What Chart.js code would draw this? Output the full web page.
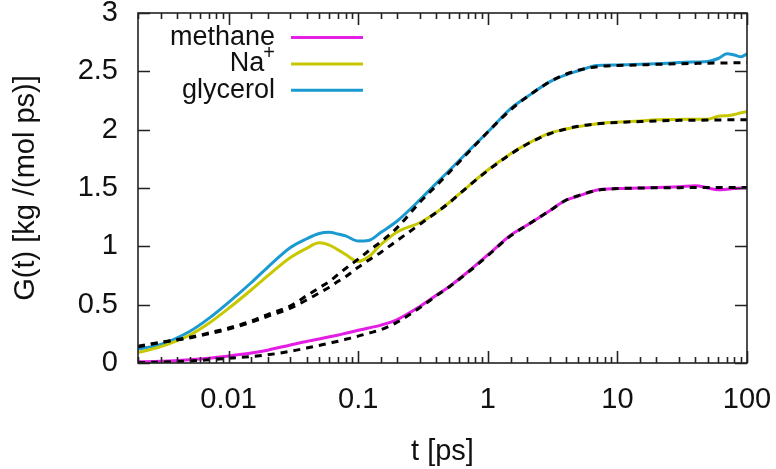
<!DOCTYPE html>
<html>
<head>
<meta charset="utf-8">
<script src="https://cdn.jsdelivr.net/npm/chart.js@4"></script>
<style>
  body { margin: 0; background: #fff; }
  #wrap { width: 776px; height: 469px; }
</style>
</head>
<body>
<div id="wrap"><canvas id="gt"></canvas></div>
<script>
// time grid (ps)
const t = [0.002, 0.003, 0.005, 0.007, 0.01, 0.015, 0.02, 0.03, 0.04, 0.05, 0.06, 0.07, 0.08, 0.1, 0.12, 0.15, 0.2, 0.3, 0.4, 0.5, 0.7, 1, 1.5, 2, 3, 4, 5, 7, 10, 15, 20, 30, 40, 50, 60, 70, 80, 90, 100];

const methane = [0.01, 0.015, 0.028, 0.04, 0.06, 0.085, 0.11, 0.155, 0.185, 0.205, 0.225, 0.24, 0.255, 0.28, 0.30, 0.325, 0.372, 0.485, 0.58, 0.652, 0.78, 0.926, 1.095, 1.18, 1.305, 1.395, 1.43, 1.483, 1.495, 1.50, 1.505, 1.51, 1.52, 1.50, 1.485, 1.49, 1.495, 1.50, 1.50];
const sodium = [0.09, 0.14, 0.238, 0.338, 0.468, 0.628, 0.746, 0.904, 0.983, 1.03, 1.01, 0.97, 0.93, 0.87, 0.91, 1.016, 1.123, 1.204, 1.29, 1.373, 1.51, 1.654, 1.793, 1.876, 1.97, 2.005, 2.026, 2.05, 2.065, 2.075, 2.085, 2.088, 2.09, 2.09, 2.115, 2.12, 2.13, 2.145, 2.155];
const glycerol = [0.12, 0.16, 0.27, 0.38, 0.52, 0.69, 0.82, 0.99, 1.065, 1.11, 1.12, 1.105, 1.09, 1.045, 1.05, 1.12, 1.217, 1.40, 1.54, 1.646, 1.81, 1.98, 2.18, 2.28, 2.41, 2.47, 2.505, 2.55, 2.555, 2.56, 2.565, 2.575, 2.58, 2.585, 2.61, 2.65, 2.64, 2.625, 2.65];

// fits (black dashed)
const methaneFit = [0.003, 0.008, 0.018, 0.027, 0.04, 0.055, 0.07, 0.10, 0.128, 0.15, 0.17, 0.187, 0.203, 0.23, 0.255, 0.285, 0.35, 0.475, 0.575, 0.65, 0.775, 0.92, 1.09, 1.18, 1.305, 1.395, 1.435, 1.48, 1.495, 1.50, 1.502, 1.503, 1.504, 1.504, 1.505, 1.505, 1.505, 1.505, 1.505];
const sodiumFit = [0.14, 0.175, 0.215, 0.25, 0.29, 0.35, 0.40, 0.47, 0.54, 0.60, 0.65, 0.70, 0.74, 0.82, 0.88, 0.95, 1.05, 1.19, 1.29, 1.37, 1.51, 1.65, 1.79, 1.875, 1.965, 2.005, 2.03, 2.05, 2.062, 2.07, 2.075, 2.08, 2.081, 2.082, 2.083, 2.084, 2.084, 2.085, 2.085];
const glycerolFit = [0.144, 0.178, 0.22, 0.257, 0.30, 0.36, 0.415, 0.49, 0.577, 0.645, 0.70, 0.76, 0.81, 0.89, 0.96, 1.04, 1.16, 1.38, 1.52, 1.63, 1.80, 1.98, 2.17, 2.28, 2.41, 2.475, 2.51, 2.54, 2.55, 2.555, 2.56, 2.565, 2.568, 2.57, 2.571, 2.572, 2.573, 2.574, 2.575];

const names = ['methane', 'Na\u207A', 'glycerol'];
const colors = ['#e41ee4', '#c8c800', '#1a9ad0'];
const xLabels = [0.01, 0.1, 1, 10, 100];

const FONT = 'Liberation Sans, Arial, sans-serif';
const pts = ys => t.map((v, i) => ({x: v, y: ys[i]}));
const isDecade = v => Math.abs(Math.log10(v) - Math.round(Math.log10(v))) < 1e-6;

function solid(i, ys) {
  return {label: names[i], data: pts(ys), borderColor: colors[i], borderWidth: 3,
    pointRadius: 0, cubicInterpolationMode: 'monotone', order: 1};
}
function fit(ys) {
  return {label: 'fit', fit: true, data: pts(ys), borderColor: '#000', borderWidth: 3,
    borderDash: [7, 6], pointRadius: 0, cubicInterpolationMode: 'monotone', order: 0};
}

// box, inward ticks on all four sides, and the in-plot legend
const frameTicks = {
  id: 'frameTicks',
  afterDatasetsDraw(chart) {
    const {ctx, chartArea: a, scales: {x, y}} = chart;
    ctx.save();
    ctx.strokeStyle = '#222';
    ctx.lineWidth = 1.6;
    ctx.beginPath();
    x.ticks.forEach(tk => {
      const px = Math.round(x.getPixelForValue(tk.value)) + 0.5;
      const len = isDecade(tk.value) ? 12 : 6;
      ctx.moveTo(px, a.bottom); ctx.lineTo(px, a.bottom - len);
      ctx.moveTo(px, a.top); ctx.lineTo(px, a.top + len);
    });
    y.ticks.forEach(tk => {
      const py = Math.round(y.getPixelForValue(tk.value)) + 0.5;
      ctx.moveTo(a.left, py); ctx.lineTo(a.left + 12, py);
      ctx.moveTo(a.right, py); ctx.lineTo(a.right - 12, py);
    });
    ctx.stroke();
    ctx.strokeRect(a.left, a.top, a.right - a.left, a.bottom - a.top);

    // legend: text right-aligned, sample line to the right
    const textRight = a.left + 137;
    ctx.textBaseline = 'middle';
    ctx.textAlign = 'right';
    ctx.fillStyle = '#111';
    chart.data.datasets.filter(d => !d.fit).forEach((d, i) => {
      const yy = a.top + 24.5 + i * 26.4;
      let label = d.label;
      if (label.endsWith('\u207A')) {
        ctx.font = '20px ' + FONT;
        const w = ctx.measureText('+').width;
        ctx.fillText('+', textRight, yy - 10);
        ctx.font = '27px ' + FONT;
        ctx.fillText(label.slice(0, -1), textRight - w + 1, yy);
      } else {
        ctx.font = '27px ' + FONT;
        ctx.fillText(label, textRight, yy);
      }
      ctx.strokeStyle = d.borderColor;
      ctx.lineWidth = 3;
      ctx.beginPath();
      ctx.moveTo(a.left + 153, yy);
      ctx.lineTo(a.left + 225, yy);
      ctx.stroke();
    });
    ctx.restore();
  }
};

new Chart(document.getElementById('gt'), {
  type: 'line',
  data: {
    datasets: [
      solid(0, methane), solid(1, sodium), solid(2, glycerol),
      fit(methaneFit), fit(sodiumFit), fit(glycerolFit)
    ]
  },
  options: {
    responsive: true,
    maintainAspectRatio: false,
    animation: false,
    layout: {padding: {top: 13, right: 29, left: 0, bottom: 0}},
    plugins: {legend: {display: false}, tooltip: {enabled: false}},
    scales: {
      x: {
        type: 'logarithmic', min: 0.002, max: 100,
        grid: {display: false, drawTicks: false},
        border: {display: false},
        ticks: {
          autoSkip: false, maxRotation: 0, padding: 20, color: '#111',
          font: {family: FONT, size: 29},
          callback: v => xLabels.some(l => Math.abs(l - v) / l < 1e-6) ? String(Number(v.toPrecision(1))) : ''
        },
        title: {display: true, text: 't [ps]', color: '#111', font: {family: FONT, size: 29}, padding: {top: 0, bottom: 0}},
        afterFit: s => { s.height = 106; s.paddingLeft = 0; s.paddingRight = 0; }
      },
      y: {
        min: 0, max: 3,
        grid: {display: false, drawTicks: false},
        border: {display: false},
        ticks: {
          stepSize: 0.5, padding: 20, color: '#111',
          font: {family: FONT, size: 29},
          callback: v => String(v)
        },
        title: {display: true, text: 'G(t) [kg /(mol ps)]', color: '#111', font: {family: FONT, size: 29}, padding: {top: 9}},
        afterFit: s => { s.width = 138; s.paddingTop = 0; s.paddingBottom = 0; }
      }
    }
  },
  plugins: [frameTicks]
});
</script>
</body>
</html>
